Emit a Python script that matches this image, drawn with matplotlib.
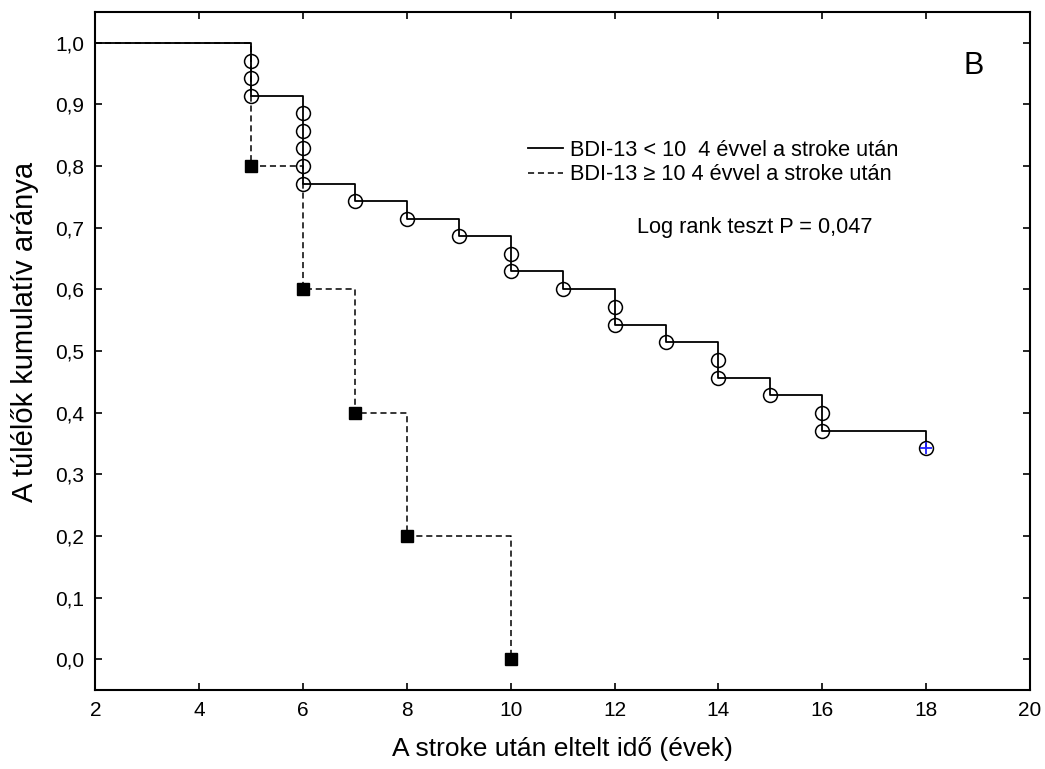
#!/usr/bin/env python3
import matplotlib.pyplot as plt

plt.rcParams['font.family'] = ['Liberation Sans', 'DejaVu Sans']

# Group BDI-13 < 10: event times and survival after each single event (circles)
low_times = [5, 5, 5, 6, 6, 6, 6, 6, 7, 8, 9, 10, 10, 11, 12, 12, 13, 14, 14, 15, 16, 16, 18]
low_surv = [0.971, 0.943, 0.914, 0.886, 0.857, 0.829, 0.800, 0.771, 0.743, 0.714, 0.686,
            0.657, 0.629, 0.600, 0.571, 0.543, 0.514, 0.486, 0.457, 0.429, 0.400, 0.371, 0.343]

# Group BDI-13 >= 10 (filled squares)
high_times = [5, 6, 7, 8, 10]
high_surv = [0.8, 0.6, 0.4, 0.2, 0.0]

start_time = 2
x_ticks = [2, 4, 6, 8, 10, 12, 14, 16, 18, 20]
y_ticks = [0.0, 0.1, 0.2, 0.3, 0.4, 0.5, 0.6, 0.7, 0.8, 0.9, 1.0]


def step_path(times, surv):
    # one point per distinct time, keeping the last survival value there
    xs, ys = [start_time], [1.0]
    for t, s in zip(times, surv):
        if xs[-1] == t:
            ys[-1] = s
        else:
            xs.append(t)
            ys.append(s)
    return xs, ys


fig = plt.figure(figsize=(10.45, 7.69), dpi=100)
ax = fig.add_axes([0.0912, 0.1027, 0.8944, 0.8817])

lx, ly = step_path(low_times, low_surv)
hx, hy = step_path(high_times, high_surv)

ax.step(hx, hy, where='post', color='black', lw=1.1, linestyle=(0, (4, 2.5)),
        label='BDI-13 \u2265 10 4 évvel a stroke után')
ax.step(lx, ly, where='post', color='black', lw=1.3,
        label='BDI-13 < 10  4 évvel a stroke után')

ax.plot(low_times, low_surv, 'o', ms=10, mfc='none', mec='black', mew=1.1)
ax.plot(low_times[-1:], low_surv[-1:], '+', ms=8.5, mec='#1f1fff', mew=1.3)
ax.plot(high_times, high_surv, 's', ms=8.5, mfc='black', mec='black')

ax.set_xlim(2, 20)
ax.set_ylim(-0.05, 1.05)
ax.set_xticks(x_ticks)
ax.set_yticks(y_ticks)
ax.set_xticklabels([str(v) for v in x_ticks])
ax.set_yticklabels([f'{v:.1f}'.replace('.', ',') for v in y_ticks])
ax.tick_params(direction='in', length=5, width=1.2, top=True, right=True,
               labelsize=15, pad=8, colors='black')
for sp in ax.spines.values():
    sp.set_linewidth(1.5)

ax.set_xlabel('A stroke után eltelt idő (évek)', fontsize=19, labelpad=12)
ax.set_ylabel('A túlélők kumulatív aránya', fontsize=21)
ax.yaxis.set_label_coords(-0.06, 0.528)

handles, labels = ax.get_legend_handles_labels()
ax.legend(handles[::-1], labels[::-1], loc='upper left', bbox_to_anchor=(0.454, 0.824),
          frameon=False, fontsize=15.7, handlelength=1.6, handletextpad=0.3,
          labelspacing=0.15, borderaxespad=0)

ax.text(0.58, 0.682, 'Log rank teszt P = 0,047', transform=ax.transAxes, fontsize=15.7,
        ha='left', va='center')
ax.text(0.94, 0.92, 'B', transform=ax.transAxes, fontsize=22, ha='center', va='center')

plt.savefig('out.png', dpi=100)
